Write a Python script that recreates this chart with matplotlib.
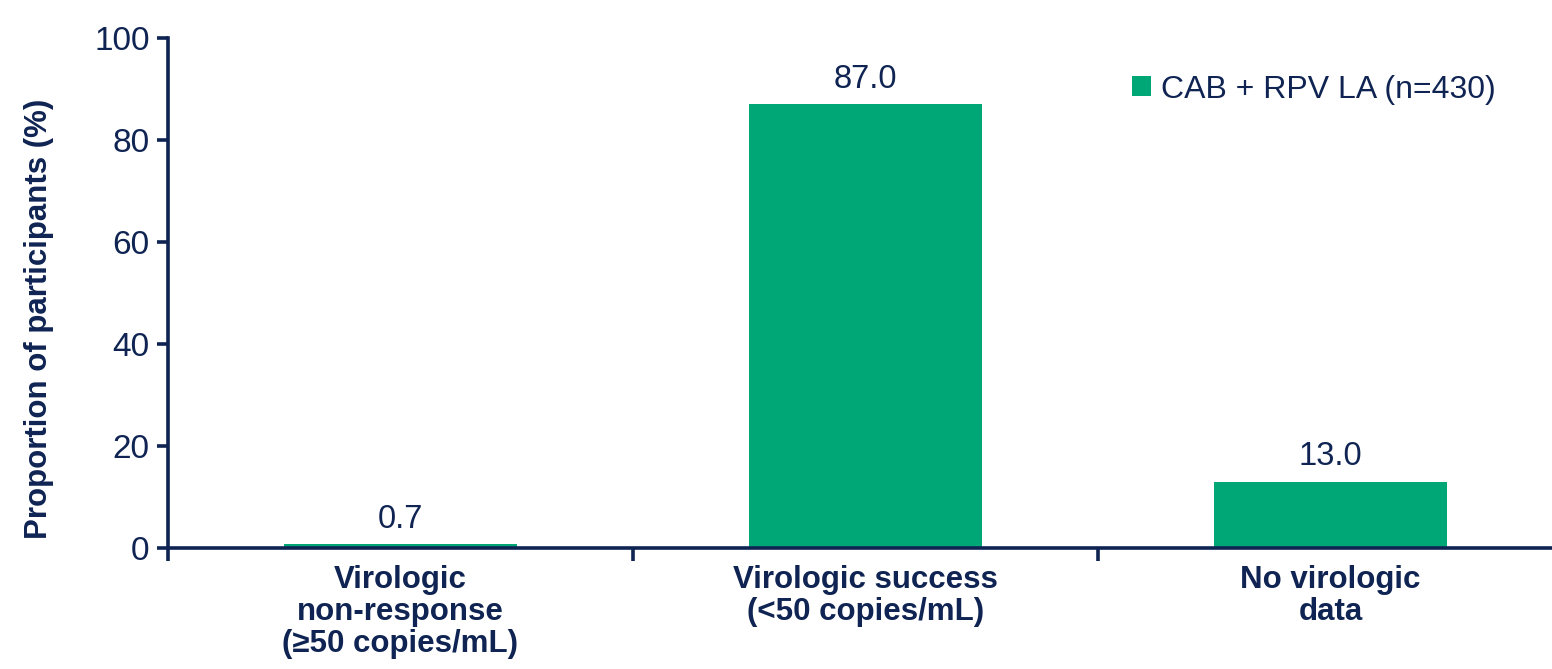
import matplotlib
matplotlib.use("Agg")
import matplotlib.pyplot as plt
import numpy as np

categories = ["Virologic\nnon-response\n(≥50 copies/mL)",
              "Virologic success\n(<50 copies/mL)",
              "No virologic\ndata"]
values = [0.7, 87.0, 13.0]
series_name = "CAB + RPV LA (n=430)"
yticks = [0, 20, 40, 60, 80, 100]

navy = "#0f2452"
green = "#00a776"

plt.rcParams["font.family"] = ["Liberation Sans", "DejaVu Sans"]

fig = plt.figure(figsize=(15.52, 6.69), dpi=100)
ax = fig.add_axes([0.108, 0.181, 0.892, 0.762])

x = np.arange(len(categories))
bars = ax.bar(x, values, width=0.5, color=green, label=series_name, zorder=2)

for xi, v in zip(x, values):
    ax.annotate(f"{v:.1f}", (xi, v), xytext=(0, 7), textcoords="offset points",
                ha="center", va="bottom", fontsize=23.5, color=navy)

ax.set_xlim(-0.5, 2.476)
ax.set_ylim(0, 100)
ax.set_yticks(yticks)
ax.tick_params(axis="y", labelsize=24, colors=navy, length=8, width=2.6, pad=5)

# category labels centred, ticks on the boundaries
ax.set_xticks(x)
ax.set_xticklabels(categories, fontsize=22.5, fontweight="bold", color=navy,
                   linespacing=1.1)
ax.tick_params(axis="x", length=0, pad=12)
ax.set_xticks([-0.5, 0.5, 1.5], minor=True)
ax.tick_params(axis="x", which="minor", length=9, width=2.6, color=navy)

for side in ["top", "right"]:
    ax.spines[side].set_visible(False)
for side in ["left", "bottom"]:
    ax.spines[side].set_color(navy)
    ax.spines[side].set_linewidth(2.6)

ax.set_ylabel("Proportion of participants (%)", fontsize=22.5, fontweight="bold",
              color=navy)
ax.yaxis.set_label_coords(-0.082, 0.45)

leg = ax.legend(loc="upper right", bbox_to_anchor=(0.98, 0.985), frameon=False,
                fontsize=23, handlelength=0.6, handleheight=0.6, handletextpad=0.3)
for t in leg.get_texts():
    t.set_color(navy)

fig.savefig("out.png", dpi=100)
